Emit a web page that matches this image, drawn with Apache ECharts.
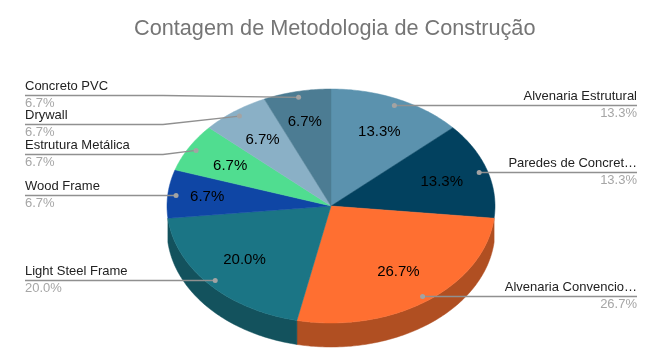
<!DOCTYPE html>
<html>
<head>
<meta charset="utf-8">
<style>
  html, body { margin: 0; padding: 0; background: #fff; }
  #pie-container { width: 648px; height: 354px; }
</style>
<script src="https://cdn.jsdelivr.net/npm/echarts@6/dist/echarts.min.js"></script>
</head>
<body>
<div id="pie-container"></div>
<script>
// Data
var chartTitle = 'Contagem de Metodologia de Construção';
var categories = ['Alvenaria Estrutural', 'Paredes de Concret…', 'Alvenaria Convencio…', 'Light Steel Frame',
    'Wood Frame', 'Estrutura Metálica', 'Drywall', 'Concreto PVC'];
var counts = [2, 2, 4, 3, 1, 1, 1, 1];
var percentLabels = ['13.3%', '13.3%', '26.7%', '20.0%', '6.7%', '6.7%', '6.7%', '6.7%'];

// Styles
var topColors = ['#5B92AE', '#02415F', '#FF6F31', '#1B7585', '#0F46A5', '#50DD90', '#8AB0C6', '#4C7C93'];
var sideColors = ['#3E667A', '#012D42', '#B04F22', '#13525D', '#0A3174', '#389B65', '#617B8B', '#355767'];

// Layout of the side labels: y of the leader line, and x where the line starts to bend
var leaderY = [105, 172, 296, 280, 195, 154, 124, 95];
var bendX = [null, null, null, null, null, 163, 163, 163];
// Small shifts Sheets gives to some inner labels
var innerShift = [[1, 2], [0, 2], [-1, -1], [0, -2], [-8, 0], [0, 1], [0, 1], [-2, -3]];

var CX = 331, CY = 206, RX = 164, RY = 117, DEPTH = 24;
var LEFT_X = 25, RIGHT_X = 637;
var MIN_WALL_DEG = 10; // thinner walls are only a stray line at the disc's edge

function ellipsePoint(deg, f, dy) {
    var rad = deg * Math.PI / 180;
    return [CX + RX * f * Math.sin(rad), CY - RY * f * Math.cos(rad) + (dy || 0)];
}

function arcPoints(from, to, dy) {
    var pts = [];
    var steps = Math.max(2, Math.ceil(Math.abs(to - from)));
    for (var i = 0; i <= steps; i++) {
        pts.push(ellipsePoint(from + (to - from) * i / steps, 1, dy));
    }
    return pts;
}

var total = counts.reduce(function (a, b) { return a + b; }, 0);

function renderSlice(params, api) {
    var i = params.dataIndex;
    var before = 0;
    for (var k = 0; k < i; k++) before += counts[k];
    var start = before / total * 360;
    var end = start + api.value(0) / total * 360;
    var mid = (start + end) / 2;
    var children = [];

    // side wall, only the front half of the disc shows
    var wallFrom = Math.max(start, 90), wallTo = Math.min(end, 270);
    if (wallTo - wallFrom > MIN_WALL_DEG) {
        children.push({
            type: 'polygon',
            z2: 1,
            shape: { points: arcPoints(wallFrom, wallTo, 0).concat(arcPoints(wallTo, wallFrom, DEPTH)) },
            style: { fill: sideColors[i], stroke: sideColors[i], lineWidth: 0.5 }
        });
    }

    children.push({
        type: 'polygon',
        z2: 2,
        shape: { points: [[CX, CY]].concat(arcPoints(start, end, 0)) },
        style: { fill: topColors[i], stroke: topColors[i], lineWidth: 0.5 }
    });

    // leader line with its dot
    var dot = ellipsePoint(mid, 0.95);
    var onLeft = mid > 180;
    var lineY = leaderY[i] + 0.5;
    if (!bendX[i]) dot[1] = lineY;
    var linePts = [[onLeft ? LEFT_X : RIGHT_X, lineY]];
    if (bendX[i]) linePts.push([bendX[i], lineY]);
    linePts.push(dot);
    children.push({
        type: 'polyline',
        z2: 3,
        shape: { points: linePts },
        style: { fill: 'none', stroke: '#909090', lineWidth: 1.3 }
    });
    children.push({
        type: 'circle',
        z2: 3,
        shape: { cx: dot[0], cy: dot[1], r: 2.5 },
        style: { fill: '#a3a3a3' }
    });

    // percent inside the slice
    var inner = ellipsePoint(mid, 0.71);
    children.push({
        type: 'text',
        z2: 4,
        style: {
            x: inner[0] + innerShift[i][0], y: inner[1] + innerShift[i][1],
            text: percentLabels[i], fill: '#000000',
            font: '15px "Liberation Sans"', align: 'center', verticalAlign: 'middle'
        }
    });

    // name above the line, percent under it
    var labelX = onLeft ? LEFT_X : RIGHT_X;
    children.push({
        type: 'text',
        z2: 4,
        style: {
            x: labelX, y: leaderY[i] - 8.5,
            text: categories[i], fill: '#222222',
            font: '13px "Liberation Sans"', align: onLeft ? 'left' : 'right', verticalAlign: 'middle'
        }
    });
    children.push({
        type: 'text',
        z2: 4,
        style: {
            x: labelX, y: leaderY[i] + 8.5,
            text: percentLabels[i], fill: '#a6a6a6',
            font: '13px "Liberation Sans"', align: onLeft ? 'left' : 'right', verticalAlign: 'middle'
        }
    });

    return { type: 'group', children: children };
}

var pie = echarts.init(document.getElementById('pie-container'));
pie.setOption({
    animation: false,
    backgroundColor: '#ffffff',
    title: {
        text: chartTitle,
        left: 129,
        top: 13,
        textStyle: { color: '#757575', fontFamily: 'Liberation Sans', fontSize: 21.7, fontWeight: 'normal' }
    },
    series: [{
        type: 'custom',
        coordinateSystem: 'none',
        silent: true,
        renderItem: renderSlice,
        data: counts.map(function (c, i) { return { name: categories[i], value: [c] }; })
    }]
});
</script>
</body>
</html>
